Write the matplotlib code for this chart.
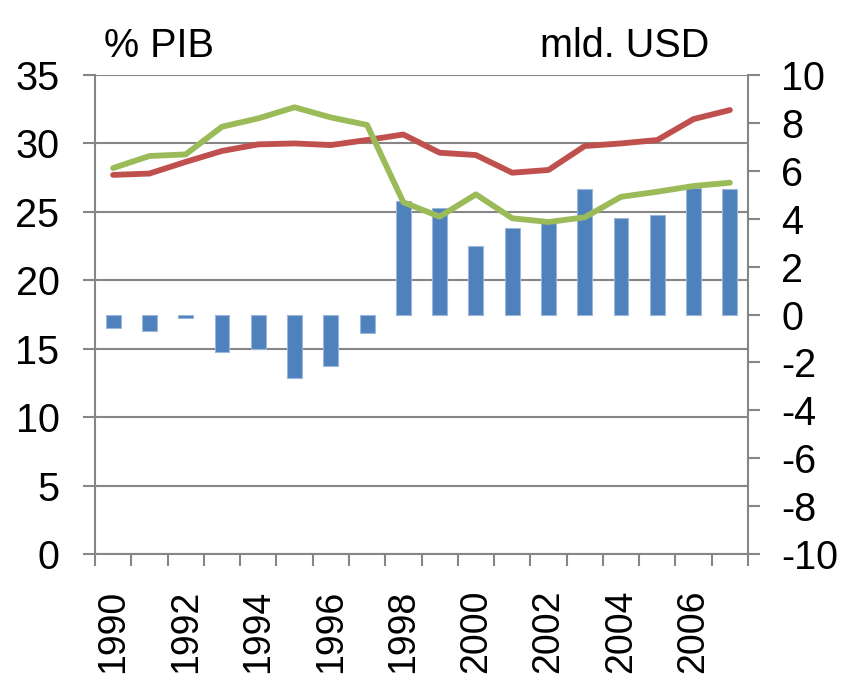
import matplotlib
matplotlib.use("Agg")
import matplotlib.pyplot as plt
import numpy as np

plt.rcParams['font.family'] = ['Liberation Sans', 'DejaVu Sans']

years = list(range(1990, 2008))
balance_usd = [-0.55, -0.70, -0.14, -1.58, -1.46, -2.67, -2.13, -0.79, 4.72, 4.46,
               2.86, 3.60, 3.80, 5.25, 4.04, 4.17, 5.28, 5.23]
red_pct = [27.7, 27.8, 28.65, 29.45, 29.93, 30.0, 29.88, 30.25, 30.65, 29.32,
           29.15, 27.86, 28.06, 29.81, 30.0, 30.25, 31.78, 32.44]
green_pct = [28.2, 29.08, 29.2, 31.22, 31.83, 32.64, 31.9, 31.35, 25.7, 24.65,
             26.28, 24.53, 24.26, 24.6, 26.1, 26.47, 26.89, 27.13]
left_ticks = [0, 5, 10, 15, 20, 25, 30, 35]
right_ticks = [-10, -8, -6, -4, -2, 0, 2, 4, 6, 8, 10]
label_years = [str(y) for y in years[::2]]

W, H = 843, 680
fig = plt.figure(figsize=(W / 100, H / 100), dpi=100)
ax = fig.add_axes([95 / W, (H - 554) / H, (748 - 95) / W, (554 - 75) / H])
ax2 = ax.twinx()
ax3 = ax.twinx()

grey = '#868686'
x = np.arange(len(years))
fs = 28.5

# base axis: left scale, gridlines, x ticks
ax.set_ylim(0, 35)
ax.set_xlim(-0.5, len(years) - 0.5)
ax.set_yticks(left_ticks)
ax.yaxis.grid(True, color=grey, linewidth=1.5)
ax.set_axisbelow(True)
ax.tick_params(axis='y', direction='out', length=8.6, width=1.5, color=grey,
               labelsize=fs, pad=17)
ax.set_xticks(x[::2])
ax.set_xticklabels(label_years, rotation=90, fontsize=27, va='top', ha='center')
ax.tick_params(axis='x', which='major', length=0, pad=25.5)
ax.set_xticks(np.arange(-0.5, len(years)), minor=True)
ax.tick_params(axis='x', which='minor', direction='out', length=8.6, width=1.5, color=grey)
for s in ['top', 'right']:
    ax.spines[s].set_visible(False)
for s in ['left', 'bottom']:
    ax.spines[s].set_color(grey)
    ax.spines[s].set_linewidth(1.5)

# bars: right scale
ax2.bar(x, balance_usd, width=0.41, color='#4F81BD', edgecolor='#9DB7DB', linewidth=0.8)
ax2.set_ylim(-10, 10)
ax2.set_yticks(right_ticks)
ax2.set_yticklabels([str(t) for t in right_ticks])
ax2.tick_params(axis='y', direction='out', length=8.6, width=1.5, color=grey,
                labelsize=fs, pad=15.5)
for s in ['top', 'left', 'bottom']:
    ax2.spines[s].set_visible(False)
ax2.spines['right'].set_color(grey)
ax2.spines['right'].set_linewidth(1.5)

# lines: left scale, on top
ax3.plot(x, red_pct, color='#C0504D', linewidth=4.2, solid_capstyle='round', solid_joinstyle='round')
ax3.plot(x, green_pct, color='#9BBB59', linewidth=4.2, solid_capstyle='round', solid_joinstyle='round')
ax3.set_ylim(0, 35)
ax3.yaxis.set_visible(False)
for s in ax3.spines.values():
    s.set_visible(False)

fig.text(104 / W, 1 - 57 / H, '% PIB', fontsize=fs, ha='left', va='baseline')
fig.text(709 / W, 1 - 57 / H, 'mld. USD', fontsize=fs, ha='right', va='baseline')

fig.savefig('out.png', dpi=100)
